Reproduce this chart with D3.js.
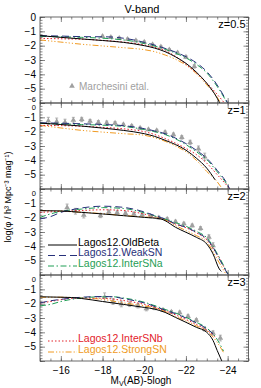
<!DOCTYPE html>
<html>
<head>
<meta charset="utf-8">
<script src="https://cdn.jsdelivr.net/npm/d3@7"></script>
<style>
  body { margin: 0; background: #fff; }
  svg { font-family: "Liberation Sans", Arial, sans-serif; }
  .tick line { stroke: #555; }
  .domain { display: none; }
</style>
</head>
<body>
<script>
// ---- data (magnitude, log phi) ----
var redshifts = ["z=0.5", "z=1", "z=2", "z=3"];
var modelNames = ["Lagos12.OldBeta", "Lagos12.WeakSN", "Lagos12.InterSNa", "Lagos12.InterSNb", "Lagos12.StrongSN"];
var modelColors = ["#000000", "#27307a", "#1f9e55", "#e3222b", "#f09a22"];
var modelDashes = [null, "7,4", "6,2.5,1.5,2.5", "1.5,2", "6,2,1.2,2,1.2,2,1.2,2"];

var oldBeta = [
  [[-15,-1.30],[-16,-1.42],[-17,-1.53],[-18,-1.64],[-19,-1.77],[-20,-2.0],[-20.5,-2.17],[-21,-2.42],[-21.5,-2.78],[-22,-3.23],[-22.5,-3.85],[-23,-4.63],[-23.5,-5.67],[-23.65,-6.1]],
  [[-15,-1.40],[-16,-1.5],[-17,-1.61],[-18,-1.75],[-19,-1.91],[-20,-2.14],[-20.5,-2.33],[-21,-2.6],[-21.5,-2.9],[-22,-3.29],[-22.5,-3.85],[-23,-4.55],[-23.4,-5.36]],
  [[-15,-1.51],[-16,-1.53],[-17,-1.63],[-18,-1.74],[-19,-1.86],[-20,-1.98],[-20.8,-2.09],[-21,-2.21],[-21.5,-2.67],[-22,-3.02],[-22.5,-3.37],[-23,-3.84],[-23.3,-4.53],[-23.6,-5.58],[-23.7,-5.75]],
  [[-15,-1.52],[-16,-1.55],[-16.5,-1.57],[-17,-1.64],[-18,-1.85],[-19,-2.05],[-20,-2.26],[-20.5,-2.38],[-21,-2.61],[-21.5,-2.96],[-22,-3.3],[-22.5,-3.65],[-23,-4.0],[-23.3,-4.57],[-23.5,-5.27],[-23.75,-6.1]]
];
var weakSN = [
  [[-15,-1.30],[-16,-1.33],[-17,-1.37],[-18,-1.38],[-18.5,-1.40],[-19,-1.48],[-19.5,-1.6],[-20,-1.77],[-20.5,-1.96],[-21,-2.19],[-21.5,-2.45],[-22,-2.77],[-22.5,-3.2],[-23,-3.81],[-23.5,-4.75],[-24,-6.0]],
  [[-15,-1.38],[-16,-1.41],[-17,-1.45],[-18,-1.5],[-19,-1.58],[-20,-1.79],[-20.5,-1.95],[-21,-2.14],[-21.5,-2.45],[-22,-2.83],[-22.5,-3.3],[-23,-3.86],[-23.5,-4.7],[-24,-5.7],[-24.1,-6.0]],
  [[-15,-2.09],[-15.5,-1.93],[-16,-1.63],[-16.5,-1.45],[-17,-1.32],[-18,-1.2],[-19,-1.28],[-20,-1.6],[-20.5,-1.85],[-21,-2.09],[-21.5,-2.44],[-22,-2.67],[-22.5,-3.02],[-23,-3.49],[-23.3,-4.07],[-23.6,-4.88],[-24,-5.93]],
  [[-15,-1.95],[-15.5,-1.8],[-16,-1.7],[-17,-1.55],[-18,-1.5],[-18.5,-1.52],[-19,-1.65],[-20,-1.95],[-21,-2.45],[-21.5,-2.7],[-22,-3.0],[-22.5,-3.35],[-23,-3.75],[-23.3,-4.1]]
];
var interSNa = [
  [[-15,-1.35],[-16,-1.38],[-17,-1.42],[-18,-1.48],[-19,-1.6],[-19.5,-1.7],[-20,-1.85],[-20.5,-2.03],[-21,-2.25],[-21.5,-2.52],[-22,-2.85],[-22.5,-3.3],[-23,-3.9],[-23.5,-4.85],[-24,-6.05]],
  [[-15,-1.42],[-16,-1.45],[-17,-1.5],[-18,-1.55],[-19,-1.63],[-20,-1.85],[-20.5,-2.0],[-21,-2.2],[-21.5,-2.5],[-22,-2.9],[-22.5,-3.4],[-23,-3.95],[-23.5,-4.8],[-24,-5.75],[-24.1,-6.0]],
  [[-15,-1.98],[-15.5,-1.74],[-16,-1.56],[-17,-1.4],[-18,-1.3],[-19,-1.36],[-20,-1.66],[-20.5,-1.88],[-21,-2.1],[-21.5,-2.35],[-22,-2.6],[-22.5,-2.95],[-23,-3.4],[-23.5,-4.5],[-24,-5.9]],
  [[-15,-2.15],[-15.5,-2.05],[-16,-1.85],[-16.5,-1.7],[-17,-1.6],[-18,-1.52],[-18.5,-1.52],[-19,-1.6],[-20,-1.9],[-21,-2.4],[-21.5,-2.65],[-22,-2.95],[-22.5,-3.3],[-23,-3.7],[-23.5,-4.5],[-23.8,-5.3]]
];
var interSNb = [
  [[-15,-1.49],[-16,-1.52],[-17,-1.55],[-18,-1.63],[-19,-1.75],[-20,-1.95],[-20.5,-2.12],[-21,-2.35],[-21.5,-2.75],[-22,-3.3],[-22.5,-3.9],[-23,-4.6],[-23.5,-5.4],[-23.9,-6.1]],
  [[-15,-1.56],[-16,-1.58],[-17,-1.62],[-18,-1.7],[-19,-1.8],[-20,-2.0],[-20.5,-2.2],[-21,-2.48],[-21.5,-2.8],[-22,-3.17],[-22.5,-3.6],[-23,-4.2],[-23.5,-5.0],[-24,-5.82],[-24.1,-6.0]],
  [[-15,-1.63],[-16,-1.56],[-17,-1.5],[-18,-1.45],[-19,-1.5],[-20,-1.75],[-20.5,-1.93],[-21,-2.15],[-21.5,-2.45],[-22,-2.7],[-22.5,-3.05],[-23,-3.55],[-23.5,-4.6],[-24,-5.95]],
  [[-15,-1.95],[-15.5,-1.85],[-16,-1.72],[-17,-1.6],[-18,-1.62],[-19,-1.78],[-20,-2.05],[-21,-2.5],[-22,-3.1],[-22.5,-3.45],[-23,-3.85],[-23.4,-4.3]]
];
var strongSN = [
  [[-15,-1.6],[-16,-1.75],[-17,-1.9],[-18,-2.02],[-19,-2.14],[-20,-2.28],[-20.5,-2.42],[-21,-2.65],[-21.5,-2.95],[-22,-3.35],[-22.5,-3.95],[-23,-4.74],[-23.5,-5.6],[-23.7,-6.1]],
  [[-15,-1.56],[-16,-1.74],[-17,-1.91],[-18,-2.03],[-19,-2.14],[-20,-2.25],[-20.5,-2.42],[-21,-2.67],[-21.5,-3.0],[-22,-3.4],[-22.5,-4.0],[-23,-4.78],[-23.5,-5.5],[-23.75,-6.0]],
  [[-15,-1.5],[-16,-1.55],[-17,-1.62],[-18,-1.72],[-19,-1.85],[-20,-1.95],[-20.8,-2.05],[-21,-2.15],[-21.5,-2.55],[-22,-2.9],[-22.5,-3.25],[-23,-3.7],[-23.5,-4.9],[-23.9,-5.9]],
  [[-15,-1.55],[-16,-1.55],[-17,-1.6],[-18,-1.7],[-19,-1.95],[-20,-2.15],[-20.5,-2.3],[-21,-2.55],[-21.5,-2.9],[-22,-3.2],[-22.5,-3.55],[-23,-3.9],[-23.5,-4.7],[-23.8,-5.4]]
];

// Marchesini et al. points: [mag, log phi, error]
var marchesini = [
  [[-18.0,-1.35,0.08],[-18.4,-1.42,0.08],[-18.8,-1.48,0.08],[-19.2,-1.55,0.08],[-19.6,-1.65,0.08],[-20.0,-1.75,0.08],[-20.4,-1.92,0.08],[-20.8,-2.08,0.08],[-21.2,-2.28,0.08],[-21.6,-2.5,0.1],[-22.0,-2.8,0.1],[-22.4,-3.45,0.12]],
  [[-15.4,-1.25,0.25],[-15.8,-1.3,0.25],[-16.2,-1.35,0.22],[-16.6,-1.2,0.2],[-17.0,-1.15,0.15],[-17.4,-1.27,0.12],[-17.8,-1.35,0.12],[-18.2,-1.38,0.12],[-18.6,-1.4,0.1],[-19.0,-1.5,0.08],[-19.4,-1.6,0.08],[-19.8,-1.75,0.08],[-20.2,-1.85,0.08],[-20.6,-1.92,0.08],[-21.0,-2.05,0.1],[-21.4,-2.2,0.1],[-21.8,-2.4,0.12],[-22.2,-2.75,0.15],[-22.6,-3.2,0.2],[-22.9,-3.75,0.25]],
  [[-16.3,-1.3,0.25],[-16.7,-1.55,0.2],[-17.1,-1.82,0.2],[-17.9,-1.85,0.15],[-18.3,-1.6,0.12],[-18.7,-1.65,0.12],[-19.1,-1.7,0.1],[-19.5,-1.75,0.1],[-19.9,-1.8,0.1],[-20.3,-1.9,0.1],[-20.7,-2.0,0.1],[-21.1,-2.1,0.1],[-21.5,-2.28,0.1],[-21.9,-2.42,0.1],[-22.3,-2.55,0.1],[-22.7,-2.75,0.12],[-23.1,-3.35,0.15],[-23.3,-3.95,0.2]],
  [[-18.1,-1.55,0.3],[-18.5,-1.85,0.2],[-18.9,-2.02,0.2],[-19.3,-2.05,0.15],[-19.7,-2.15,0.15],[-20.1,-2.35,0.15],[-20.5,-2.3,0.12],[-20.9,-2.45,0.1],[-21.3,-2.58,0.1],[-21.7,-2.62,0.1],[-22.1,-2.88,0.1],[-22.5,-3.15,0.1],[-22.9,-3.8,0.12],[-23.3,-4.05,0.15],[-23.65,-4.4,0.2]]
];

var xTicks = [-16, -18, -20, -22, -24];
var yTicks = [0, -1, -2, -3, -4, -5, -6];

// ---- layout ----
var width = 261, height = 388,
    left = 40, right = 248.5,
    top0 = 17, panelH = 86;

var svg = d3.select("body").append("svg")
  .attr("width", width)
  .attr("height", height);

var x = d3.scaleLinear().domain([-15, -25]).range([left, right]);

var models = [oldBeta, weakSN, interSNa, interSNb, strongSN];

var xMinor = d3.range(-15, -25.01, -0.5);
var yMinor = d3.range(0, -6.01, -0.2).map(function(v) { return Math.round(v * 10) / 10; });

svg.append("text")
  .attr("x", 142).attr("y", 13)
  .attr("text-anchor", "middle")
  .attr("font-size", 11)
  .text("V-band");

redshifts.forEach(function(zlab, p) {
  var top = top0 + p * panelH;
  var y = d3.scaleLinear().domain([0, -6]).range([top, top + panelH]);

  var g = svg.append("g");

  g.append("clipPath").attr("id", "clip" + p)
    .append("rect")
    .attr("x", left).attr("y", top)
    .attr("width", right - left).attr("height", panelH);

  // minor + major ticks, pointing inward on all four sides
  function ticks(axis, tx, ty, vals, size) {
    g.append("g")
      .attr("transform", "translate(" + tx + "," + ty + ")")
      .call(axis.tickValues(vals).tickSize(size).tickFormat(""))
      .selectAll("line").attr("stroke", "#555").attr("stroke-width", 0.7);
  }
  ticks(d3.axisRight(y), left, 0, yMinor, 2.5);
  ticks(d3.axisRight(y), left, 0, yTicks, 5);
  ticks(d3.axisLeft(y), right, 0, yMinor, 2.5);
  ticks(d3.axisLeft(y), right, 0, yTicks, 5);
  ticks(d3.axisBottom(x), 0, top, xMinor, 2.5);
  ticks(d3.axisBottom(x), 0, top, xTicks, 5);
  ticks(d3.axisTop(x), 0, top + panelH, xMinor, 2.5);
  ticks(d3.axisTop(x), 0, top + panelH, xTicks, 5);

  // y tick labels (only the top panel shows -6; the crowded ones at the
  // panel joins are set a little smaller and nudged apart)
  var labs = p === 0 ? yTicks : yTicks.slice(0, 6);
  var ya = g.append("g")
    .attr("transform", "translate(" + left + ",0)")
    .call(d3.axisLeft(y).tickValues(labs).tickSize(0).tickPadding(4).tickFormat(d3.format("d")));
  ya.selectAll("text").attr("fill", "#000")
    .attr("font-family", "Liberation Sans, Arial, sans-serif")
    .attr("font-size", function(d) {
      return (d === -6 || (d === 0 && p > 0)) ? 7.5 : 10;
    })
    .attr("dy", function(d) {
      if (d === -6) return "-0.26em";
      if (d === 0 && p > 0) return "0.88em";
      return "0.32em";
    });

  var plot = g.append("g").attr("clip-path", "url(#clip" + p + ")");

  var line = d3.line()
    .x(function(d) { return x(d[0]); })
    .y(function(d) { return y(d[1]); })
    .curve(d3.curveMonotoneX);

  // observations
  var obs = plot.append("g");
  marchesini[p].forEach(function(d) {
    var cx = x(d[0]);
    obs.append("line")
      .attr("x1", cx).attr("x2", cx)
      .attr("y1", y(d[1] + d[2])).attr("y2", y(d[1] - d[2]))
      .attr("stroke", "#a0a0a0").attr("stroke-width", 0.8);
    [d[1] + d[2], d[1] - d[2]].forEach(function(v) {
      obs.append("line")
        .attr("x1", cx - 1.5).attr("x2", cx + 1.5)
        .attr("y1", y(v)).attr("y2", y(v))
        .attr("stroke", "#a0a0a0").attr("stroke-width", 0.8);
    });
    obs.append("path")
      .attr("d", d3.symbol(d3.symbolTriangle, 14)())
      .attr("transform", "translate(" + cx + "," + y(d[1]) + ")")
      .attr("fill", "#a0a0a0");
  });

  // model curves
  [4, 3, 2, 1, 0].forEach(function(m) {
    plot.append("path")
      .attr("d", line(models[m][p]))
      .attr("fill", "none")
      .attr("stroke", modelColors[m])
      .attr("stroke-width", 1)
      .attr("stroke-dasharray", modelDashes[m]);
  });

  g.append("rect")
    .attr("x", left).attr("y", top)
    .attr("width", right - left).attr("height", panelH)
    .attr("fill", "none").attr("stroke", "#444").attr("stroke-width", 0.8);

  g.append("text")
    .attr("x", right - 3).attr("y", top + 11)
    .attr("text-anchor", "end")
    .attr("font-size", 11)
    .text(zlab);
});

// legends
function legendItem(m, ly) {
  svg.append("line")
    .attr("x1", 48).attr("x2", 77)
    .attr("y1", ly + 3).attr("y2", ly + 3)
    .attr("stroke", modelColors[m])
    .attr("stroke-width", 1)
    .attr("stroke-dasharray", modelDashes[m]);
  svg.append("text")
    .attr("x", 78).attr("y", ly + 3.5)
    .attr("font-size", 10.5)
    .attr("fill", modelColors[m] === "#000000" ? "#000" : modelColors[m])
    .text(modelNames[m]);
}
legendItem(0, 242);
legendItem(1, 252.5);
legendItem(2, 263);
legendItem(3, 338);
legendItem(4, 349);

svg.append("path")
  .attr("d", d3.symbol(d3.symbolTriangle, 14)())
  .attr("transform", "translate(72,86)")
  .attr("fill", "#a0a0a0");
svg.append("text")
  .attr("x", 79).attr("y", 89.5)
  .attr("font-size", 10)
  .attr("fill", "#a0a0a0")
  .text("Marchesini etal.");

// x tick labels on the bottom panel
var xa = svg.append("g")
  .attr("transform", "translate(0," + (top0 + 4 * panelH) + ")")
  .call(d3.axisBottom(x).tickValues(xTicks).tickSize(0).tickPadding(6).tickFormat(d3.format("d")));
xa.selectAll("text").attr("font-size", 10).attr("fill", "#000")
  .attr("font-family", "Liberation Sans, Arial, sans-serif");

var xl = svg.append("text")
  .attr("x", 141).attr("y", 384)
  .attr("text-anchor", "middle")
  .attr("font-size", 10);
xl.append("tspan").text("M");
xl.append("tspan").attr("font-size", 7).attr("dy", 2).text("V");
xl.append("tspan").attr("dy", -2).text("(AB)-5logh");

svg.append("text")
  .attr("transform", "translate(11,197) rotate(-90)")
  .attr("text-anchor", "middle")
  .attr("font-size", 9)
  .text("log(\u03c6 / h\u00b3 Mpc\u207b\u00b3 mag\u207b\u00b9)");
</script>
</body>
</html>
